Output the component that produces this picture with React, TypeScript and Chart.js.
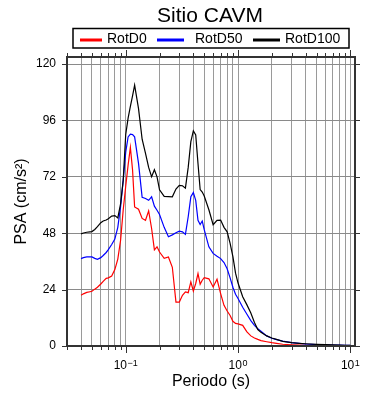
import React, { useEffect, useRef } from 'react';
import { Chart, registerables } from 'chart.js';

Chart.register(...registerables);

const chartTitle = 'Sitio CAVM';
const xTitle = 'Periodo (s)';
const yTitle = 'PSA (cm/s²)';

const periods = [
  0.04, 0.042, 0.045, 0.048, 0.05,
  0.053, 0.056, 0.06, 0.063, 0.067,
  0.07, 0.075, 0.08, 0.085, 0.09,
  0.095, 0.1, 0.105, 0.11, 0.115,
  0.12, 0.13, 0.14, 0.15, 0.16,
  0.17, 0.18, 0.19, 0.2, 0.22,
  0.24, 0.26, 0.28, 0.3, 0.32,
  0.34, 0.36, 0.38, 0.4, 0.42,
  0.44, 0.46, 0.48, 0.5, 0.55,
  0.6, 0.65, 0.7, 0.75, 0.8,
  0.85, 0.9, 0.95, 1.0, 1.1,
  1.2, 1.3, 1.4, 1.5, 1.6,
  1.8, 2.0, 2.2, 2.5, 3.0,
  3.5, 4.0, 5.0, 6.0, 7.0,
  8.0, 9.0, 10.0,
];

const rotD0 = [
  21.6, 22.2, 22.8, 23.1, 23.3,
  24.2, 25.0, 26.4, 27.5, 28.8,
  29.0, 29.8, 32.5, 37.0, 45.0,
  58.0, 68.0, 77.0, 84.5, 75.0,
  59.2, 58.2, 54.3, 53.5, 57.5,
  50.0, 40.9, 42.2, 40.0, 37.3,
  37.9, 33.5, 18.7, 18.7, 21.6,
  23.0, 22.7, 27.3, 23.4, 26.6,
  30.8, 26.3, 28.0, 29.1, 28.6,
  25.1, 28.4, 22.3, 17.3, 14.9,
  13.0, 10.5, 9.6, 9.4, 8.8,
  6.0, 4.3, 3.4, 2.8, 2.3,
  1.8, 1.4, 1.1, 0.75, 0.5,
  0.35, 0.25, 0.16, 0.11, 0.08,
  0.06, 0.05, 0.04,
];

const rotD50 = [
  37.2, 37.6, 37.9, 37.9, 37.9,
  37.3, 36.9, 37.6, 38.5, 39.8,
  41.0, 43.2, 45.5, 50.5, 59.3,
  70.6, 82.5, 89.0, 90.2, 90.0,
  89.0, 77.7, 63.3, 62.8, 62.0,
  63.5, 59.5, 57.8, 56.0, 50.5,
  46.5, 47.3, 48.2, 48.9, 48.6,
  47.5, 55.0, 63.5, 65.3, 62.0,
  53.5, 51.7, 53.2, 49.5, 42.2,
  39.4, 38.2, 37.2, 35.5, 32.9,
  29.0, 25.0, 22.0, 20.2, 16.5,
  13.5, 10.8, 8.8, 7.3, 6.3,
  4.3, 3.3, 2.7, 2.1, 1.4,
  1.1, 0.85, 0.6, 0.48, 0.4,
  0.35, 0.3, 0.27,
];

const rotD100 = [
  47.7, 48.1, 48.4, 48.6, 48.7,
  49.6, 50.8, 52.5, 53.2, 53.6,
  54.2, 55.3, 55.5, 54.5, 60.5,
  70.6, 90.0, 97.0, 102.0, 106.5,
  111.0, 101.0, 88.0, 82.0, 76.0,
  72.0, 75.0, 72.0, 66.5, 63.7,
  63.6, 63.5, 66.8, 68.4, 68.2,
  67.2, 76.0, 87.0, 91.6, 89.8,
  77.7, 66.6, 65.5, 63.8, 58.0,
  51.6, 53.5, 53.6, 50.5, 48.6,
  43.7, 38.0, 31.0, 26.8, 21.0,
  17.5, 14.0, 10.0, 7.0, 5.8,
  4.3, 3.4, 2.8, 2.0, 1.4,
  1.15, 0.95, 0.7, 0.55, 0.45,
  0.38, 0.32, 0.28,
];

const seriesNames = ['RotD0', 'RotD50', 'RotD100'];
const seriesColors = ['#ff0000', '#0000ff', '#000000'];
const seriesValues = [rotD0, rotD50, rotD100];

const yTickValues = [0, 24, 48, 72, 96, 120];
const xMajorValues = [0.1, 1, 10];
const xMajorBase = '10';
const xMajorExponents = ['−1', '0', '1'];
const xMin = 0.03;
const xMax = 11;
const yMax = 123;

const FONT = "'Liberation Sans', Arial, Helvetica, sans-serif";

function buildXTicks(): number[] {
  const out: number[] = [];
  for (let e = -2; e <= 1; e++) {
    for (let m = 1; m <= 9; m++) {
      const v = Number((m * Math.pow(10, e)).toPrecision(4));
      if (v >= xMin && v <= xMax) out.push(v);
    }
  }
  return out;
}
const xTickValues = buildXTicks();

function majorIndex(v: number): number {
  return xMajorValues.findIndex((m) => Math.abs(v / m - 1) < 1e-6);
}

const decorPlugin = {
  id: 'decor',
  afterDraw(chart: any) {
    const { ctx, chartArea: a, scales } = chart;
    const xs = scales.x;
    const ys = scales.y;
    ctx.save();
    ctx.strokeStyle = '#333333';
    ctx.lineWidth = 1;
    ctx.beginPath();
    for (const v of xTickValues) {
      const px = Math.round(xs.getPixelForValue(v)) + 0.5;
      const len = majorIndex(v) >= 0 ? 6 : 3;
      ctx.moveTo(px, a.bottom);
      ctx.lineTo(px, a.bottom + 1 + len);
      ctx.moveTo(px, a.top);
      ctx.lineTo(px, a.top - 1 - len);
    }
    for (const v of yTickValues) {
      const py = Math.round(ys.getPixelForValue(v)) + 0.5;
      ctx.moveTo(a.left - 5, py);
      ctx.lineTo(a.left, py);
      ctx.moveTo(a.right, py);
      ctx.lineTo(a.right + 5, py);
    }
    ctx.stroke();

    // frame
    ctx.lineWidth = 2;
    ctx.strokeStyle = '#333333';
    ctx.strokeRect(a.left, a.top, a.right - a.left, a.bottom - a.top);

    // x major tick labels with superscript exponent
    ctx.fillStyle = '#000';
    ctx.textAlign = 'left';
    ctx.textBaseline = 'alphabetic';
    for (let i = 0; i < xMajorValues.length; i++) {
      const px = xs.getPixelForValue(xMajorValues[i]);
      ctx.font = `12px ${FONT}`;
      const wb = ctx.measureText(xMajorBase).width;
      ctx.font = `9px ${FONT}`;
      const we = ctx.measureText(xMajorExponents[i]).width;
      const x0 = px - (wb + we + 0.5) / 2;
      ctx.font = `12px ${FONT}`;
      ctx.fillText(xMajorBase, x0, 368.5);
      ctx.font = `9px ${FONT}`;
      ctx.fillText(xMajorExponents[i], x0 + wb + 0.5, 365.5);
    }

    // title
    ctx.fillStyle = '#000';
    ctx.font = `21px ${FONT}`;
    ctx.textAlign = 'center';
    ctx.fillText(chartTitle, 210, 22);

    // legend box
    ctx.lineWidth = 1.5;
    ctx.strokeStyle = '#000';
    ctx.strokeRect(73, 28.5, 276, 19.5);
    const lineStarts = [80, 157, 253];
    const lineLens = [22, 27, 27];
    const textStarts = [107, 195, 285];
    ctx.font = `14px ${FONT}`;
    ctx.textAlign = 'left';
    for (let i = 0; i < seriesNames.length; i++) {
      ctx.strokeStyle = seriesColors[i];
      ctx.lineWidth = 3;
      ctx.beginPath();
      ctx.moveTo(lineStarts[i], 40);
      ctx.lineTo(lineStarts[i] + lineLens[i], 40);
      ctx.stroke();
      ctx.fillStyle = '#000';
      ctx.fillText(seriesNames[i], textStarts[i], 43);
    }
    ctx.restore();
  },
};

export default function App() {
  const canvasRef = useRef<HTMLCanvasElement | null>(null);

  useEffect(() => {
    document.body.style.margin = '0';
    const canvas = canvasRef.current;
    if (!canvas) return;
    const order = [3, 2, 1];
    const chart = new Chart(canvas, {
      type: 'line',
      data: {
        datasets: seriesNames.map((name, i) => ({
          label: name,
          data: periods.map((p, j) => ({ x: p, y: seriesValues[i][j] })),
          borderColor: seriesColors[i],
          backgroundColor: seriesColors[i],
          borderWidth: 1.2,
          pointRadius: 0,
          tension: 0,
          fill: false,
          order: order[i],
        })),
      },
      options: {
        responsive: false,
        animation: false,
        devicePixelRatio: 1,
        layout: { padding: { left: 0, right: 35, top: 57, bottom: 0 } },
        plugins: {
          legend: { display: false },
          title: { display: false },
          tooltip: { enabled: false },
        },
        scales: {
          x: {
            type: 'logarithmic',
            min: xMin,
            max: xMax,
            afterBuildTicks: (scale: any) => {
              scale.ticks = xTickValues.map((v) => ({ value: v }));
            },
            afterFit: (scale: any) => {
              scale.height = 54;
            },
            grid: { color: '#9a9a9a', lineWidth: 1, drawTicks: false },
            border: { display: false },
            ticks: {
              autoSkip: false,
              maxRotation: 0,
              minRotation: 0,
              padding: 9,
              color: '#000',
              font: { family: FONT, size: 12 },
              callback: () => '',
            },
            title: {
              display: true,
              text: xTitle,
              color: '#000',
              font: { family: FONT, size: 16 },
              padding: { top: 0, bottom: 9 },
            },
          },
          y: {
            type: 'linear',
            min: 0,
            max: yMax,
            afterBuildTicks: (scale: any) => {
              scale.ticks = yTickValues.map((v) => ({ value: v }));
            },
            afterFit: (scale: any) => {
              scale.width = 67;
            },
            grid: { color: '#8a8a8a', lineWidth: 1, drawTicks: false },
            border: { display: false },
            ticks: {
              padding: 11,
              color: '#000',
              font: { family: FONT, size: 12 },
              callback: (value: any) => String(value),
            },
            title: {
              display: true,
              text: yTitle,
              color: '#000',
              font: { family: FONT, size: 16 },
              padding: { top: 12, bottom: 0 },
            },
          },
        },
      },
      plugins: [decorPlugin],
    } as any);
    return () => chart.destroy();
  }, []);

  return (
    <div style={{ width: 390, height: 400 }}>
      <canvas ref={canvasRef} width={390} height={400} style={{ display: 'block' }} />
    </div>
  );
}
